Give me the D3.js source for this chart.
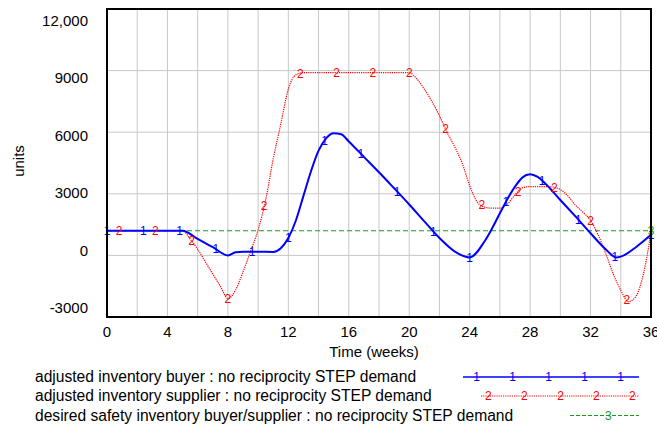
<!DOCTYPE html>
<html>
<head>
<meta charset="utf-8">
<script src="https://cdn.jsdelivr.net/npm/d3@7"></script>
<style>
  body { margin: 0; background: #fff; }
  svg text { font-family: "Liberation Sans", Arial, sans-serif; }
</style>
</head>
<body>
<div id="chart"></div>
<script>
// Chart data
var buyerWeeks = [0,1,2,3,4,5,6,7,8,8.5,9,10,11,11.5,12,12.5,13,13.5,14,14.5,15,15.5,16,
  17,18,19,20,21,22,23,24,25,26,26.5,27,27.5,28,28.5,29,30,31,32,33,33.7,34,35,36];
var buyerUnits = [1200,1200,1200,1200,1200,1200,800,400,0,150,180,180,170,350,850,1700,2900,4100,5100,5700,5950,5900,5550,
  4800,4050,3270,2480,1660,850,200,-100,700,2050,2750,3350,3800,3950,3820,3500,2700,1900,1080,300,-100,-60,400,1000];

var supplierWeeks = [0,1,2,3,4,5,5.5,6,6.5,7,7.5,8,8.5,9,9.5,10,10.5,11,11.5,12,12.5,13,14,15,16,17,18,19,20,
  20.5,21,21.5,22,22.5,23,23.5,24,24.5,25,25.5,26,26.5,27,27.5,28,29,29.5,30,30.5,31,31.5,32,32.5,33,33.5,34,34.5,35,35.5,36];
var supplierUnits = [1200,1200,1200,1200,1200,1200,800,300,-300,-900,-1500,-2100,-1700,-800,200,1240,2700,4700,6400,8100,8800,8900,8900,8900,8900,8900,8900,8900,8900,
  8600,8100,7500,6800,6000,5300,4500,3400,2600,2350,2300,2300,2500,2950,3300,3350,3350,3330,3200,2900,2450,2100,1700,1000,100,-900,-1700,-2250,-2000,-900,1100];

var safetyWeeks = [0, 36];
var safetyUnits = [1200, 1200];

var xTicks = [0,4,8,12,16,20,24,28,32,36];
var yTicks = [-3000,0,3000,6000,9000,12000];
var yTickLabels = ["-3000","0","3000","6000","9000","12,000"];

var legendLabels = [
  "adjusted inventory buyer : no reciprocity STEP demand",
  "adjusted inventory supplier : no reciprocity STEP demand",
  "desired safety inventory buyer/supplier : no reciprocity STEP demand"
];

// SVG size and plot box
var svgWidth = 657;
var svgHeight = 429;
var plot = { left: 107, right: 651, top: 9, bottom: 317 };

var svg = d3.select("#chart")
  .append("svg")
  .attr("width", svgWidth)
  .attr("height", svgHeight);

var x = d3.scaleLinear().domain([0, 36]).range([plot.left, plot.right]);
var y = d3.scaleLinear().domain([-3000, 12000]).range([plot.bottom, plot.top]);
// Vensim spreads its y labels a little tighter than the grid
var yLabel = d3.scaleLinear().domain([-3000, 12000]).range([308, 20.5]);

// Grid lines
var grid = svg.append("g").attr("stroke", "#c8c8c8").attr("stroke-width", 1);
grid.selectAll("line.v")
  .data(d3.range(2, 36, 2))
  .enter().append("line")
  .attr("x1", d => x(d)).attr("x2", d => x(d))
  .attr("y1", plot.top).attr("y2", plot.bottom);
grid.selectAll("line.h")
  .data([0, 3000, 6000, 9000])
  .enter().append("line")
  .attr("x1", plot.left).attr("x2", plot.right)
  .attr("y1", d => y(d)).attr("y2", d => y(d));

// Axis labels
svg.append("g").selectAll("text")
  .data(xTicks)
  .enter().append("text")
  .attr("x", d => x(d))
  .attr("y", 337)
  .attr("text-anchor", "middle")
  .attr("font-size", 15)
  .text(d => d);

svg.append("g").selectAll("text")
  .data(yTicks)
  .enter().append("text")
  .attr("x", 88)
  .attr("y", d => yLabel(d))
  .attr("dy", "0.35em")
  .attr("text-anchor", "end")
  .attr("font-size", 15)
  .text((d, i) => yTickLabels[i]);

svg.append("text")
  .attr("x", 374)
  .attr("y", 357)
  .attr("text-anchor", "middle")
  .attr("font-size", 15)
  .text("Time (weeks)");

svg.append("text")
  .attr("transform", "translate(24,161) rotate(-90)")
  .attr("text-anchor", "middle")
  .attr("font-size", 15)
  .text("units");

// Series
function zip(ws, vs) { return ws.map((w, i) => ({ t: w, v: vs[i] })); }
var buyer = zip(buyerWeeks, buyerUnits);
var supplier = zip(supplierWeeks, supplierUnits);
var safety = zip(safetyWeeks, safetyUnits);

var line = d3.line()
  .x(d => x(d.t))
  .y(d => y(d.v))
  .curve(d3.curveMonotoneX);

// value at time t, for marker placement
function valueAt(data, t) {
  var i = d3.bisector(d => d.t).left(data, t);
  if (i <= 0) return data[0].v;
  if (i >= data.length) return data[data.length - 1].v;
  var a = data[i - 1], b = data[i];
  return a.v + (b.v - a.v) * (t - a.t) / (b.t - a.t);
}

svg.append("path")
  .datum(safety)
  .attr("d", line)
  .attr("fill", "none")
  .attr("stroke", "#1a9a1a")
  .attr("stroke-width", 1.2)
  .attr("stroke-dasharray", "5,3");

svg.append("path")
  .datum(supplier)
  .attr("d", line)
  .attr("fill", "none")
  .attr("stroke", "#ff0000")
  .attr("stroke-width", 1.2)
  .attr("stroke-dasharray", "1.2,1");

svg.append("path")
  .datum(buyer)
  .attr("d", line)
  .attr("fill", "none")
  .attr("stroke", "#0000ff")
  .attr("stroke-width", 2);

// Series markers
var buyerMarks = d3.range(0, 16).map(i => i * 2.4);
var supplierMarks = d3.range(0, 15).map(i => 0.8 + i * 2.4);

svg.append("g").selectAll("text")
  .data(supplierMarks)
  .enter().append("text")
  .attr("x", d => x(d))
  .attr("y", d => y(valueAt(supplier, d)))
  .attr("dy", "0.36em")
  .attr("text-anchor", "middle")
  .attr("font-size", 12)
  .attr("fill", "#ff0000")
  .text("2");

svg.append("g").selectAll("text")
  .data(buyerMarks)
  .enter().append("text")
  .attr("x", d => x(d))
  .attr("y", d => y(valueAt(buyer, d)))
  .attr("dy", "0.36em")
  .attr("text-anchor", "middle")
  .attr("font-size", 12)
  .attr("fill", "#0000ff")
  .text("1");

svg.append("text")
  .attr("x", x(36))
  .attr("y", y(1200))
  .attr("dy", "0.36em")
  .attr("text-anchor", "middle")
  .attr("font-size", 12)
  .attr("fill", "#1a9a1a")
  .text("3");

// Plot border
svg.append("rect")
  .attr("x", plot.left)
  .attr("y", plot.top)
  .attr("width", plot.right - plot.left)
  .attr("height", plot.bottom - plot.top)
  .attr("fill", "none")
  .attr("stroke", "#000")
  .attr("stroke-width", 2);

// Legend
var legendY = [377, 396, 415.5];
var legend = svg.append("g");
legend.selectAll("text.lab")
  .data(legendLabels)
  .enter().append("text")
  .attr("x", 35)
  .attr("y", (d, i) => legendY[i])
  .attr("dy", "0.35em")
  .attr("font-size", 15.6)
  .text(d => d);

legend.append("line")
  .attr("x1", 463).attr("x2", 639)
  .attr("y1", legendY[0]).attr("y2", legendY[0])
  .attr("stroke", "#0000ff").attr("stroke-width", 1.5);
legend.selectAll("text.m1")
  .data([476.7, 512.7, 548.5, 584.7, 620.7])
  .enter().append("text")
  .attr("x", d => d).attr("y", legendY[0])
  .attr("dy", "0.36em").attr("text-anchor", "middle")
  .attr("font-size", 12).attr("fill", "#0000ff")
  .text("1");

legend.append("line")
  .attr("x1", 481).attr("x2", 639)
  .attr("y1", legendY[1]).attr("y2", legendY[1])
  .attr("stroke", "#ff0000").attr("stroke-width", 1).attr("stroke-dasharray", "1.2,1");
legend.selectAll("text.m2")
  .data([488.3, 524.3, 560.5, 596.3, 632.3])
  .enter().append("text")
  .attr("x", d => d).attr("y", legendY[1])
  .attr("dy", "0.36em").attr("text-anchor", "middle")
  .attr("font-size", 12).attr("fill", "#ff0000")
  .text("2");

legend.append("line")
  .attr("x1", 570).attr("x2", 639)
  .attr("y1", legendY[2]).attr("y2", legendY[2])
  .attr("stroke", "#1a9a1a").attr("stroke-width", 1.2).attr("stroke-dasharray", "4,2");
legend.append("text")
  .attr("x", 608.3).attr("y", legendY[2])
  .attr("dy", "0.36em").attr("text-anchor", "middle")
  .attr("font-size", 12).attr("fill", "#1a9a1a")
  .text("3");
</script>
</body>
</html>
